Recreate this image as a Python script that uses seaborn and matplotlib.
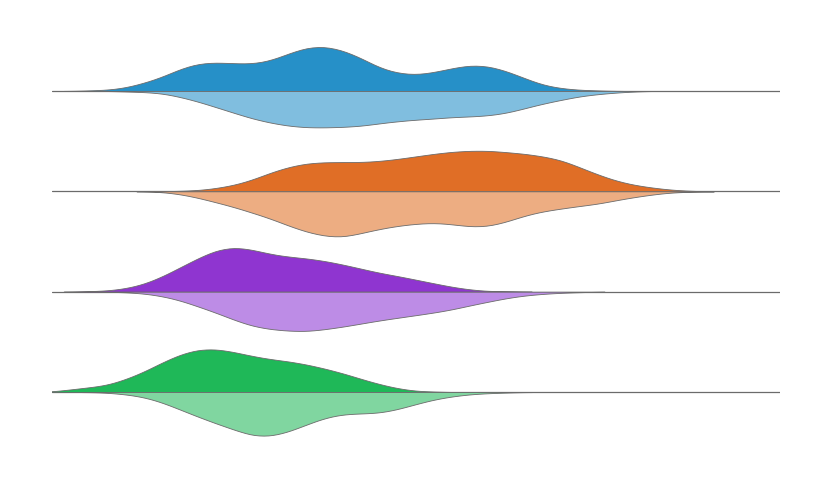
import numpy as np
import pandas as pd
import matplotlib
matplotlib.use("Agg")
import matplotlib.pyplot as plt
import seaborn as sns
from matplotlib.colors import to_rgba

sns.set_theme(style="white")

# ---- data ----
groups = ["A", "B", "C", "D"]
halves = ["upper", "lower"]

# score bins shared by all series
score_bins = [0, 2.5, 5, 7.5, 10, 12.5, 15, 17.5, 20, 22.5, 25, 27.5, 30, 32.5,
              35, 37.5, 40, 42.5, 45, 47.5, 50, 52.5, 55, 57.5, 60, 62.5, 65,
              67.5, 70, 72.5, 75, 77.5, 80, 82.5, 85, 87.5, 90]

# frequencies per bin
a_upper = [0, 0, 1, 2, 6, 15, 26, 42, 53, 55, 53, 52, 58, 72, 84, 86, 78, 63, 44,
           34, 31, 36, 44, 50, 48, 38, 24, 11, 5, 2, 1, 0, 0, 0, 0, 0, 0]
a_lower = [0, 0, 0, 0, 1, 2, 4, 11, 20, 31, 42, 53, 61, 67, 70, 70, 69, 67, 62,
           58, 55, 53, 50, 49, 47, 42, 33, 24, 17, 10, 6, 3, 1, 0, 0, 0, 0]
b_upper = [0, 0, 0, 0, 0, 0, 0, 1, 2, 6, 12, 22, 36, 47, 54, 56, 56, 56, 58, 62,
           67, 72, 76, 78, 78, 75, 72, 67, 60, 46, 32, 20, 12, 7, 3, 1, 0]
b_lower = [0, 0, 0, 0, 0, 0, 1, 5, 12, 21, 30, 41, 52, 66, 78, 86, 88, 80, 72,
           66, 62, 60, 63, 68, 67, 58, 46, 38, 33, 28, 24, 17, 11, 6, 2, 1, 0]
c_upper = [0, 0, 1, 2, 6, 14, 28, 46, 64, 80, 86, 81, 72, 67, 64, 59, 52, 44, 36,
           30, 23, 16, 9, 4, 1, 1, 0, 0, 0, 0, 0, 0, 0, 0, 0, 0, 0]
c_lower = [0, 0, 0, 0, 1, 3, 8, 16, 28, 40, 54, 66, 72, 75, 76, 72, 67, 61, 55,
           50, 45, 40, 34, 26, 19, 12, 7, 4, 2, 1, 0, 0, 0, 0, 0, 0, 0]
d_upper = [1, 5, 9, 13, 24, 38, 56, 72, 82, 83, 77, 69, 63, 59, 53, 45, 36, 25,
           15, 7, 2, 1, 0, 0, 0, 0, 0, 0, 0, 0, 0, 0, 0, 0, 0, 0, 0]
d_lower = [0, 0, 0, 1, 4, 9, 19, 33, 47, 60, 72, 84, 85, 76, 62, 49, 42, 41, 40,
           33, 23, 14, 8, 4, 2, 1, 0, 0, 0, 0, 0, 0, 0, 0, 0, 0, 0]

series = {
    ("A", "upper"): a_upper, ("A", "lower"): a_lower,
    ("B", "upper"): b_upper, ("B", "lower"): b_lower,
    ("C", "upper"): c_upper, ("C", "lower"): c_lower,
    ("D", "upper"): d_upper, ("D", "lower"): d_lower,
}

colors = {
    "A": ("#2690c8", "#80bedf"),
    "B": ("#e06e26", "#edad82"),
    "C": ("#8f35d0", "#bd8ce6"),
    "D": ("#1fb858", "#80d6a0"),
}

# expand frequency table into observations
rows = []
for (g, h), counts in series.items():
    vals = np.repeat(score_bins, counts)
    rows.append(pd.DataFrame({"score": vals, "group": g, "half": h}))
df = pd.concat(rows, ignore_index=True)
n_obs = df.groupby(["group", "half"]).size().to_dict()

BW = 1.7  # kernel bandwidth in score units


def fixed_bw(kde):
    return BW / np.sqrt(np.cov(kde.dataset, bias=False))


fig = plt.figure(figsize=(8.2, 5.0), dpi=100)
ax = fig.add_axes([52 / 820, 1 - 442.25 / 500, 728 / 820, 401.5 / 500])

for i in range(len(groups)):
    ax.axhline(i, color="#6b6b6b", lw=0.9, zorder=0)

sns.violinplot(data=df, x="score", y="group", hue="half",
               order=groups, hue_order=halves, split=True, inner=None,
               density_norm="area", common_norm=True, bw_method=fixed_bw,
               cut=2, width=0.9, linewidth=0.6, linecolor="#6b6b6b",
               palette=["#888888", "#cccccc"], legend=False, ax=ax)

# identify halves, then scale each half so that its area follows its count
halves_info = []
for coll in ax.collections:
    paths = coll.get_paths()
    if not paths:
        continue
    v = paths[0].vertices.copy()
    yc = np.mean(v[:, 1])
    gi = int(round(yc))
    side = 0 if yc < gi else 1
    n = n_obs[(groups[gi], halves[side])]
    halves_info.append((coll, v, gi, side, n))

half_width = 0.448
peak = max(np.max(np.abs(v[:, 1] - gi)) * n for _, v, gi, _, n in halves_info)
for coll, v, gi, side, n in halves_info:
    v[:, 1] = gi + (v[:, 1] - gi) * n * half_width / peak
    coll.set_verts([v])
    coll.set_facecolor(to_rgba(colors[groups[gi]][side]))
    coll.set_edgecolor("#6b6b6b")
    coll.set_linewidth(0.6)
    coll.set_zorder(2)

ax.set_xlim(0, 100)
ax.set_ylim(3.5, -0.5)
ax.set_axis_off()

fig.savefig("out.png", dpi=100)
